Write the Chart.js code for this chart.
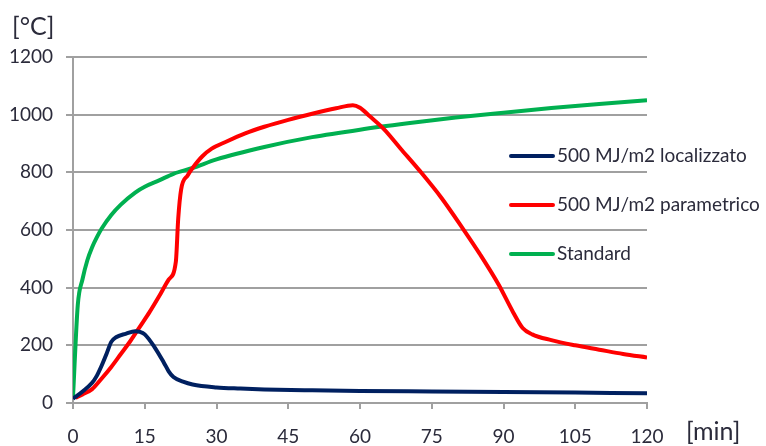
<!DOCTYPE html>
<html>
<head>
<meta charset="utf-8">
<script src="https://cdn.jsdelivr.net/npm/chart.js@4.4.1/dist/chart.umd.min.js"></script>
<style>
    html, body { margin: 0; padding: 0; background: #fff; }
    #wrap { width: 766px; height: 446px; }
</style>
</head>
<body>
<div id="wrap"><canvas id="chart" width="766" height="446"></canvas></div>
<script>
// Tick labels
const xTicks = [0, 15, 30, 45, 60, 75, 90, 105, 120];
const yTicks = [0, 200, 400, 600, 800, 1000, 1200];

// Series labels
const seriesNames = ['500 MJ/m2 localizzato', '500 MJ/m2 parametrico', 'Standard'];

// Localizzato: minutes / °C
const locT = [0, 2, 4, 5, 6, 7, 8, 9, 11, 13, 14, 15, 17, 19, 20, 21, 23, 25, 30, 35, 40, 50, 60, 75, 90, 105, 120];
const locV = [15, 40, 70, 95, 130, 170, 212, 228, 240, 249, 247, 238, 195, 140, 110, 90, 74, 64, 54, 50, 47, 44, 42, 40, 38, 36, 34];

// Parametrico
const parT = [0.5, 2, 4, 6, 8, 10, 12, 14, 16, 18, 20, 21.5, 22, 22.6, 24, 25, 27, 29, 32, 36, 40, 45, 50, 55, 58.5, 60, 62, 65, 68.5, 72.5, 77, 81.5, 85, 89, 92, 94, 96, 100, 105, 110, 115, 120];
const parV = [18, 30, 48, 85, 125, 170, 215, 265, 315, 370, 428, 490, 640, 740, 790, 815, 855, 882, 906, 935, 958, 982, 1003, 1022, 1033, 1024, 995, 950, 882, 805, 712, 605, 518, 410, 315, 260, 238, 218, 200, 185, 170, 158];

// Standard
const stdT = [0, 1, 2, 3, 4, 5, 6, 8, 10, 13, 15, 18, 21, 25, 30, 40, 50, 60, 70, 80, 90, 100, 110, 120];
const stdV = [20, 340, 430, 495, 540, 575, 605, 652, 688, 730, 750, 772, 795, 815, 845, 888, 922, 948, 970, 990, 1007, 1023, 1037, 1050];

const colors = ['#002060', '#ff0000', '#00b050'];
const textColor = '#2b2b3b';
const gridColor = '#a0a0a0';
const fontFamily = 'Lato, "Open Sans", sans-serif';

function toPoints(xs, ys) {
    return xs.map((x, i) => ({ x: x, y: ys[i] }));
}

// Legend drawn inside the plot area, plus the unit labels
const extrasPlugin = {
    id: 'extras',
    afterDraw(chart) {
        const ctx = chart.ctx;
        ctx.save();
        ctx.font = '19px ' + fontFamily;
        ctx.textBaseline = 'middle';
        ctx.textAlign = 'left';
        const rows = [156, 205, 254];
        chart.data.datasets.forEach((ds, i) => {
            const y = rows[i];
            ctx.strokeStyle = ds.borderColor;
            ctx.lineWidth = 4;
            ctx.lineCap = 'round';
            ctx.beginPath();
            ctx.moveTo(511, y);
            ctx.lineTo(553, y);
            ctx.stroke();
            ctx.fillStyle = textColor;
            ctx.fillText(ds.label, 557, y);
        });

        ctx.font = '25px ' + fontFamily;
        ctx.fillStyle = textColor;
        ctx.textBaseline = 'alphabetic';
        ctx.fillText('[°C]', 12, 35);
        ctx.fillText('[min]', 686, 440);
        ctx.restore();
    }
};

const chart = new Chart(document.getElementById('chart'), {
    type: 'line',
    data: {
        datasets: [
            { label: seriesNames[0], data: toPoints(locT, locV), borderColor: colors[0] },
            { label: seriesNames[1], data: toPoints(parT, parV), borderColor: colors[1] },
            { label: seriesNames[2], data: toPoints(stdT, stdV), borderColor: colors[2] }
        ].map(ds => Object.assign(ds, {
            borderWidth: 4,
            pointRadius: 0,
            fill: false,
            cubicInterpolationMode: 'monotone',
            backgroundColor: ds.borderColor
        }))
    },
    options: {
        responsive: false,
        animation: false,
        layout: { padding: { left: 0, top: 57, right: 119, bottom: 0 } },
        plugins: {
            legend: { display: false },
            tooltip: { enabled: false }
        },
        scales: {
            x: {
                type: 'linear',
                min: 0,
                max: 120,
                afterBuildTicks: scale => { scale.ticks = xTicks.map(v => ({ value: v })); },
                afterFit: scale => { scale.height = 43; },
                ticks: {
                    color: textColor,
                    font: { family: fontFamily, size: 19 },
                    padding: 16,
                    maxRotation: 0,
                    callback: v => String(v)
                },
                grid: {
                    drawOnChartArea: false,
                    drawTicks: true,
                    tickLength: 6,
                    color: gridColor,
                    lineWidth: 2
                },
                border: { color: gridColor, width: 2 }
            },
            y: {
                min: 0,
                max: 1200,
                afterBuildTicks: scale => { scale.ticks = yTicks.map(v => ({ value: v })); },
                afterFit: scale => { scale.width = 73; },
                ticks: {
                    color: textColor,
                    font: { family: fontFamily, size: 19 },
                    padding: 13,
                    callback: v => String(v)
                },
                grid: {
                    color: gridColor,
                    lineWidth: 2,
                    tickLength: 7
                },
                border: { color: gridColor, width: 2 }
            }
        }
    },
    plugins: [extrasPlugin]
});
</script>
</body>
</html>
